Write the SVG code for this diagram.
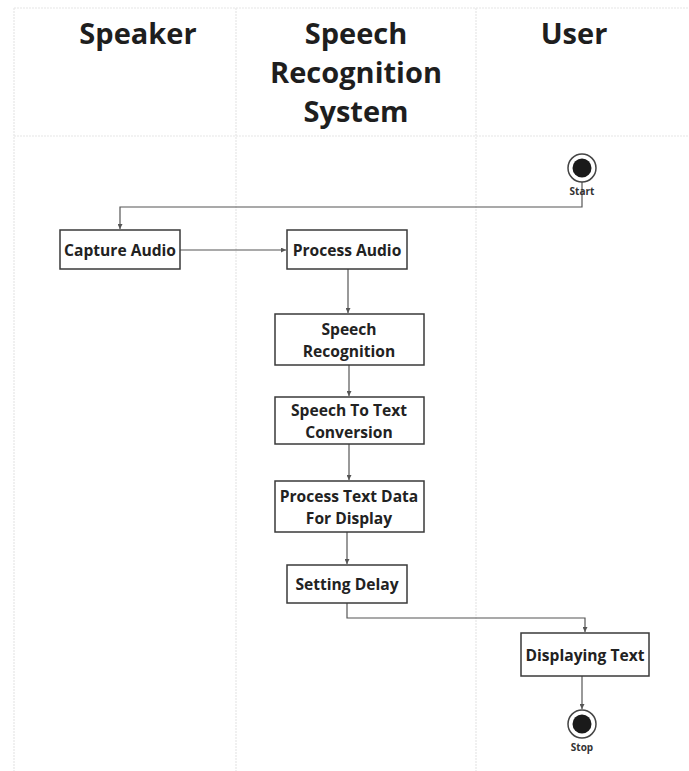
<svg xmlns="http://www.w3.org/2000/svg" width="689" height="771" viewBox="0 0 689 771">
<style>
.lane{fill:none;stroke:#e6e6e6;stroke-width:1.2;stroke-dasharray:2 1}
.hdr{font-family:"Open Sans",sans-serif;font-weight:bold;font-size:29px;fill:#1e1e1e;text-anchor:middle}
.box{fill:#fff;stroke:#3a3a3a;stroke-width:1.5}
.lbl{font-family:"Open Sans",sans-serif;font-weight:bold;font-size:15.6px;fill:#222;text-anchor:middle}
.sm{font-family:"Open Sans",sans-serif;font-weight:bold;font-size:10px;fill:#333;text-anchor:middle}
.con{fill:none;stroke:#555;stroke-width:1.2}
</style>
<defs>
<marker id="ah" markerWidth="5" markerHeight="5" refX="5" refY="2.5" orient="auto" markerUnits="userSpaceOnUse">
<path d="M0,0 L5,2.5 L0,5 z" fill="#555"/>
</marker>
</defs>
<rect width="689" height="771" fill="#fff"/>
<g id="lanes">
<line class="lane" x1="14" y1="8" x2="689" y2="8"/>
<line class="lane" x1="14" y1="8" x2="14" y2="771"/>
<line class="lane" x1="236" y1="8" x2="236" y2="771"/>
<line class="lane" x1="476" y1="8" x2="476" y2="771"/>
<line class="lane" x1="14" y1="136" x2="689" y2="136"/>
<text class="hdr" x="138" y="44">Speaker</text>
<text class="hdr" x="356" y="44">Speech</text>
<text class="hdr" x="356" y="83">Recognition</text>
<text class="hdr" x="356" y="122">System</text>
<text class="hdr" x="574" y="44">User</text>
</g>
<g id="connectors">
<path class="con" d="M582,182 V207 H120 V229" marker-end="url(#ah)"/>
<path class="con" d="M180,250 H286" marker-end="url(#ah)"/>
<path class="con" d="M348,269 V313" marker-end="url(#ah)"/>
<path class="con" d="M349,365 V396" marker-end="url(#ah)"/>
<path class="con" d="M349,444 V480" marker-end="url(#ah)"/>
<path class="con" d="M347,532 V564" marker-end="url(#ah)"/>
<path class="con" d="M347,603 V618 H585 V632" marker-end="url(#ah)"/>
<path class="con" d="M582,676 V709" marker-end="url(#ah)"/>
</g>
<g id="start">
<circle cx="582" cy="168" r="14" fill="#fff" stroke="#444" stroke-width="1.5"/>
<circle cx="582" cy="168" r="9.5" fill="#1a1a1a"/>
<text class="sm" x="582" y="195">Start</text>
</g>
<g id="capture-audio">
<rect class="box" x="60" y="230" width="120" height="39"/>
<text class="lbl" x="120" y="256">Capture Audio</text>
</g>
<g id="process-audio">
<rect class="box" x="287" y="230" width="120" height="39"/>
<text class="lbl" x="347" y="256">Process Audio</text>
</g>
<g id="speech-recognition">
<rect class="box" x="275" y="314" width="149" height="51"/>
<text class="lbl" x="349" y="335">Speech</text>
<text class="lbl" x="349" y="357">Recognition</text>
</g>
<g id="speech-to-text">
<rect class="box" x="275" y="397" width="149" height="47"/>
<text class="lbl" x="349" y="416">Speech To Text</text>
<text class="lbl" x="349" y="438">Conversion</text>
</g>
<g id="process-text">
<rect class="box" x="275" y="481" width="149" height="51"/>
<text class="lbl" x="349" y="502">Process Text Data</text>
<text class="lbl" x="349" y="524">For Display</text>
</g>
<g id="setting-delay">
<rect class="box" x="287" y="565" width="120" height="38"/>
<text class="lbl" x="347" y="590">Setting Delay</text>
</g>
<g id="displaying-text">
<rect class="box" x="521" y="633" width="128" height="43"/>
<text class="lbl" x="585" y="661">Displaying Text</text>
</g>
<g id="stop">
<circle cx="582" cy="724" r="14" fill="#fff" stroke="#444" stroke-width="1.5"/>
<circle cx="582" cy="724" r="9.5" fill="#1a1a1a"/>
<text class="sm" x="582" y="751">Stop</text>
</g>
</svg>
